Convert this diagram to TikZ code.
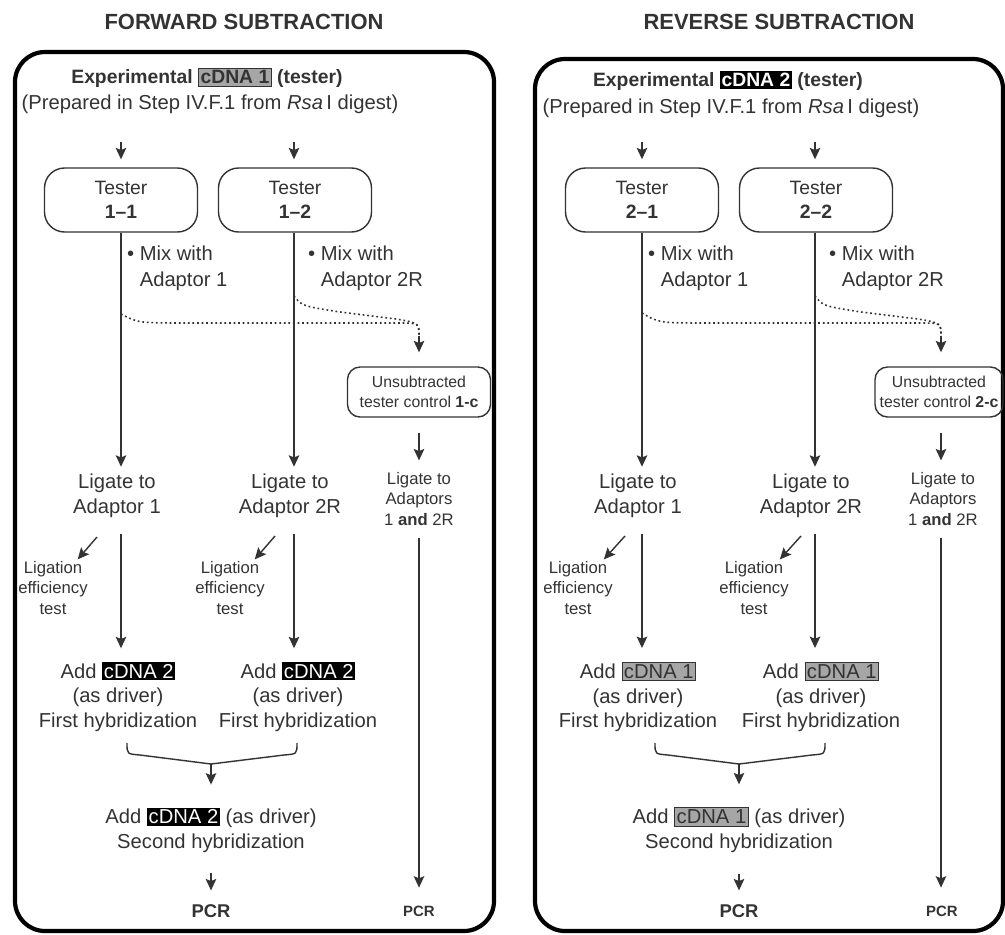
\documentclass[tikz,border=0pt]{standalone}
\usepackage{fontspec}
\setmainfont{Liberation Sans}
\usepackage{tikz}
\usetikzlibrary{arrows.meta}

\definecolor{ink}{gray}{0.2}
\newcommand{\hlg}[1]{{\setlength{\fboxsep}{1pt}\fcolorbox{ink}{black!35}{#1}}}
\newcommand{\hlk}[1]{{\setlength{\fboxsep}{1pt}\colorbox{black}{\textcolor{white}{#1}}}}

\tikzset{
  txt/.style={align=center, text=ink, inner sep=1pt, font=\fontsize{11.5}{14.5}\selectfont},
  small/.style={align=center, text=ink, inner sep=1pt, font=\fontsize{9.5}{11.6}\selectfont},
  title/.style={text=ink, font=\fontsize{12.5}{15}\selectfont\bfseries},
  panel/.style={draw=black, line width=2.4pt, rounded corners=0.6cm},
  tbox/.style={draw=ink, line width=0.8pt, rounded corners=0.4cm, minimum width=3.06cm, minimum height=1.28cm, align=center, text=ink, font=\fontsize{11}{14}\selectfont},
  ubox/.style={draw=ink, line width=0.8pt, rounded corners=0.25cm, minimum height=1cm, inner sep=0.5pt, align=center, text=ink, font=\fontsize{9}{11.6}\selectfont},
  flow/.style={draw=ink, line width=0.8pt, -{Stealth[length=6.5pt, width=6pt, inset=1.2pt]}},
  plain/.style={draw=ink, line width=0.8pt},
  dotline/.style={draw=ink, line width=0.9pt, dash pattern=on 1pt off 1.6pt}
}

\begin{document}
\begin{tikzpicture}[x=0.02cm, y=-0.02cm]
    \useasboundingbox (0,0) rectangle (1005,934);

    \node[title] (ttl1) at (244,22) {FORWARD SUBTRACTION};
    \node[title] (ttl2) at (779,22) {REVERSE SUBTRACTION};
    \draw[panel] (15,52) rectangle (494,931);
    \draw[panel] (535,59) rectangle (1003,931);

    % forward subtraction
    \node[txt, font=\fontsize{11}{13}\selectfont\bfseries] (exp1) at (207,78) {Experimental \hlg{cDNA 1} (tester)};
    \node[txt] (prep1) at (210,104) {(Prepared in Step IV.F.1 from \textit{Rsa}\,I digest)};
    \node[tbox] (tst11) at (121,200) {Tester\\\textbf{1--1}};
    \node[tbox] (tst12) at (295,200) {Tester\\\textbf{1--2}};
    \coordinate (in11) at (121,142);
    \coordinate (in12) at (294,142);
    \draw[flow, shorten >=0.16cm] (in11) -- (in11 |- tst11.north);
    \draw[flow, shorten >=0.16cm] (in12) -- (in12 |- tst12.north);

    \node[txt, align=left, anchor=north west] (mix11) at (125,244) {\textbullet~Mix with\\\phantom{\textbullet~}Adaptor 1};
    \node[txt, align=left, anchor=north west] (mix12) at (306,244) {\textbullet~Mix with\\\phantom{\textbullet~}Adaptor 2R};

    \node[txt] (lig11) at (117,496) {Ligate to\\Adaptor 1};
    \node[txt] (lig12) at (290,496) {Ligate to\\Adaptor 2R};
    \draw[flow, shorten >=0.1cm] (tst11) -- (tst11 |- lig11.north);
    \draw[flow, shorten >=0.1cm] (in12 |- tst12.south) -- (in12 |- lig12.north);

    \node[ubox, minimum width=2.86cm] (unsub1) at (419,392) {Unsubtracted\\tester control \textbf{1-c}};
    \coordinate (dA1) at (121,314);
    \coordinate (dB1) at (294,296);
    \coordinate (cU1) at (419,336);
    \draw[dotline] (dA1) .. controls (138,323) .. (190,323) -- (398,323) .. controls (419,323) .. (cU1);
    \draw[dotline] (dB1) .. controls (302,306) .. (340,312) -- (396,319) .. controls (419,323) .. (cU1);
    \draw[flow, shorten >=0.28cm] (cU1) -- (unsub1);

    \node[small] (ligc1) at (419,499) {Ligate to\\Adaptors\\1 \textbf{and} 2R};
    \draw[flow, shorten <=0.3cm, shorten >=0.2cm] (unsub1) -- (ligc1);
    \node[font=\fontsize{8.5}{10}\selectfont\bfseries, text=ink, inner sep=1pt] (pcr1c) at (419,911) {PCR};
    \draw[flow, shorten <=0.2cm, shorten >=0.32cm] (ligc1) -- (pcr1c);

    \node[small] (eff11) at (53,588) {Ligation\\efficiency\\test};
    \node[small] (eff12) at (230,588) {Ligation\\efficiency\\test};
    \coordinate (e11s) at (97,537);
    \coordinate (e12s) at (275,536);
    \draw[flow] (e11s) -- (eff11);
    \draw[flow] (e12s) -- (eff12);

    \node[txt, font=\fontsize{11.5}{14}\selectfont] (add11) at (118,697) {Add \hlk{cDNA 2}\\(as driver)\\First hybridization};
    \node[txt, font=\fontsize{11.5}{14}\selectfont] (add12) at (298,697) {Add \hlk{cDNA 2}\\(as driver)\\First hybridization};
    \draw[flow, shorten <=0.27cm, shorten >=0.24cm] (tst11 |- lig11.south) -- (tst11 |- add11.north);
    \draw[flow, shorten <=0.27cm, shorten >=0.24cm] (in12 |- lig12.south) -- (in12 |- add12.north);

    \coordinate (brl1) at (127,743);
    \coordinate (brr1) at (297,743);
    \coordinate (brm1) at (211,764);
    \draw[plain] (brl1) .. controls (127,754) .. (140,755) -- (brm1) -- (284,755) .. controls (297,754) .. (brr1);
    \node[txt, font=\fontsize{11.5}{14}\selectfont] (sec1) at (211,830) {Add \hlk{cDNA 2} (as driver)\\Second hybridization};
    \draw[flow, shorten >=0.42cm] (brm1) -- (sec1);
    \node[font=\fontsize{10.5}{12}\selectfont\bfseries, text=ink, inner sep=1pt] (pcr1) at (211,911) {PCR};
    \draw[flow, shorten <=0.38cm, shorten >=0.24cm] (sec1) -- (pcr1);

    % reverse subtraction
    \node[txt, font=\fontsize{11}{13}\selectfont\bfseries] (exp2) at (728,81) {Experimental \hlk{cDNA 2} (tester)};
    \node[txt] (prep2) at (731,108) {(Prepared in Step IV.F.1 from \textit{Rsa}\,I digest)};
    \node[tbox] (tst21) at (642,200) {Tester\\\textbf{2--1}};
    \node[tbox] (tst22) at (816,200) {Tester\\\textbf{2--2}};
    \coordinate (in21) at (642,142);
    \coordinate (in22) at (815,142);
    \draw[flow, shorten >=0.16cm] (in21) -- (in21 |- tst21.north);
    \draw[flow, shorten >=0.16cm] (in22) -- (in22 |- tst22.north);

    \node[txt, align=left, anchor=north west] (mix21) at (646,244) {\textbullet~Mix with\\\phantom{\textbullet~}Adaptor 1};
    \node[txt, align=left, anchor=north west] (mix22) at (827,244) {\textbullet~Mix with\\\phantom{\textbullet~}Adaptor 2R};

    \node[txt] (lig21) at (638,496) {Ligate to\\Adaptor 1};
    \node[txt] (lig22) at (811,496) {Ligate to\\Adaptor 2R};
    \draw[flow, shorten >=0.1cm] (tst21) -- (tst21 |- lig21.north);
    \draw[flow, shorten >=0.1cm] (in22 |- tst22.south) -- (in22 |- lig22.north);

    \node[ubox, minimum width=2.56cm] (unsub2) at (939,392) {Unsubtracted\\tester control \textbf{2-c}};
    \coordinate (dA2) at (642,313);
    \coordinate (dB2) at (815,296);
    \coordinate (cU2) at (941,336);
    \draw[dotline] (dA2) .. controls (659,323) .. (711,323) -- (920,323) .. controls (941,323) .. (cU2);
    \draw[dotline] (dB2) .. controls (823,306) .. (861,312) -- (918,319) .. controls (941,323) .. (cU2);
    \draw[flow, shorten >=0.28cm] (cU2) -- (cU2 |- unsub2.north);

    \node[small] (ligc2) at (943,499) {Ligate to\\Adaptors\\1 \textbf{and} 2R};
    \draw[flow, shorten <=0.3cm, shorten >=0.2cm] (cU2 |- unsub2.south) -- (cU2 |- ligc2.north);
    \node[font=\fontsize{8.5}{10}\selectfont\bfseries, text=ink, inner sep=1pt] (pcr2c) at (942,911) {PCR};
    \draw[flow, shorten <=0.2cm, shorten >=0.32cm] (cU2 |- ligc2.south) -- (cU2 |- pcr2c.north);

    \node[small] (eff21) at (578,588) {Ligation\\efficiency\\test};
    \node[small] (eff22) at (754,588) {Ligation\\efficiency\\test};
    \coordinate (e21s) at (625,536);
    \coordinate (e22s) at (801,536);
    \draw[flow] (e21s) -- (eff21);
    \draw[flow] (e22s) -- (eff22);

    \node[txt, font=\fontsize{11.5}{14}\selectfont] (add21) at (638,697) {Add \hlg{cDNA 1}\\(as driver)\\First hybridization};
    \node[txt, font=\fontsize{11.5}{14}\selectfont] (add22) at (821,697) {Add \hlg{cDNA 1}\\(as driver)\\First hybridization};
    \draw[flow, shorten <=0.27cm, shorten >=0.24cm] (tst21 |- lig21.south) -- (tst21 |- add21.north);
    \draw[flow, shorten <=0.27cm, shorten >=0.24cm] (in22 |- lig22.south) -- (in22 |- add22.north);

    \coordinate (brl2) at (655,743);
    \coordinate (brr2) at (825,743);
    \coordinate (brm2) at (739,764);
    \draw[plain] (brl2) .. controls (655,754) .. (668,755) -- (brm2) -- (812,755) .. controls (825,754) .. (brr2);
    \node[txt, font=\fontsize{11.5}{14}\selectfont] (sec2) at (739,830) {Add \hlg{cDNA 1} (as driver)\\Second hybridization};
    \draw[flow, shorten >=0.42cm] (brm2) -- (sec2);
    \node[font=\fontsize{10.5}{12}\selectfont\bfseries, text=ink, inner sep=1pt] (pcr2) at (739,911) {PCR};
    \draw[flow, shorten <=0.38cm, shorten >=0.24cm] (sec2) -- (pcr2);
\end{tikzpicture}
\end{document}
